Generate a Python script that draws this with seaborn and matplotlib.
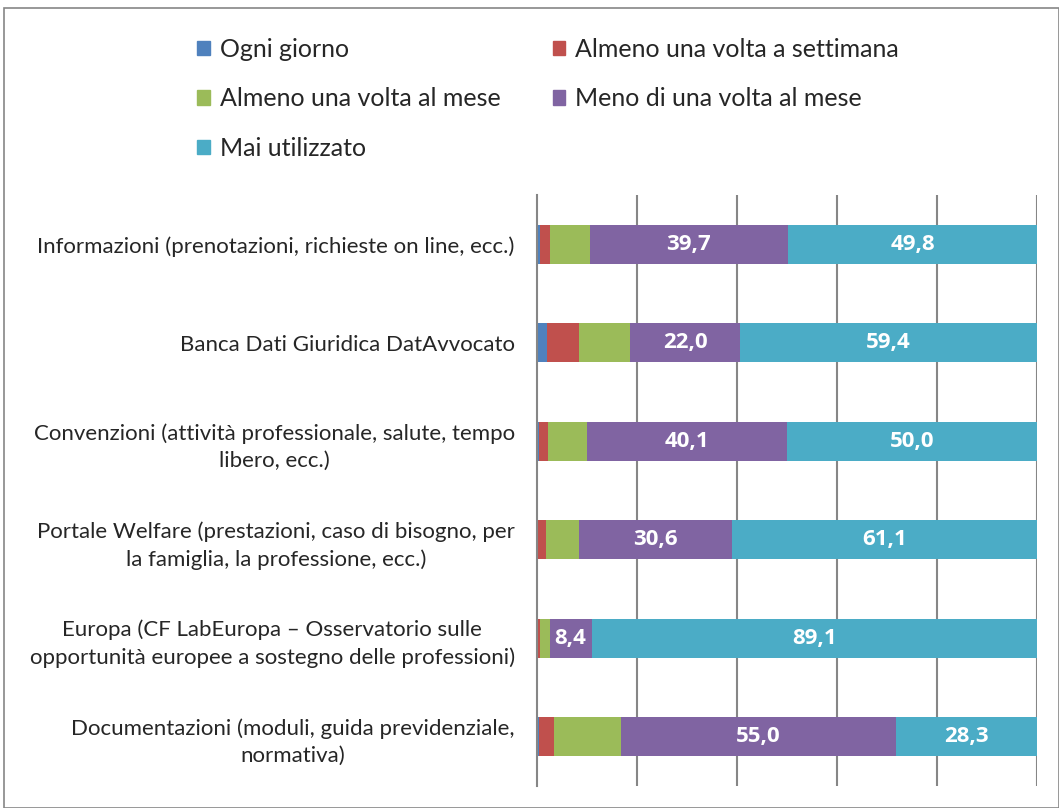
import numpy as np
import pandas as pd
import matplotlib
matplotlib.use('Agg')
import matplotlib.pyplot as plt
import matplotlib.patches as mpatches
import seaborn as sns

# categorie (dall'alto in basso)
servizi = [
    'Informazioni (prenotazioni, richieste on line, ecc.)',
    'Banca Dati Giuridica DatAvvocato',
    'Convenzioni (attività professionale, salute, tempo\nlibero, ecc.)',
    'Portale Welfare (prestazioni, caso di bisogno, per\nla famiglia, la professione, ecc.)',
    'Europa (CF LabEuropa – Osservatorio sulle\nopportunità europee a sostegno delle professioni)',
    'Documentazioni (moduli, guida previdenziale,\nnormativa)',
]
serie = ['Ogni giorno', 'Almeno una volta a settimana', 'Almeno una volta al mese',
         'Meno di una volta al mese', 'Mai utilizzato']

ogni_giorno = [0.5, 1.9, 0.3, 0.2, 0.1, 0.4]
settimana = [2.1, 6.5, 1.8, 1.6, 0.5, 3.0]
mese = [7.9, 10.2, 7.8, 6.5, 1.9, 13.3]
meno_mese = [39.7, 22.0, 40.1, 30.6, 8.4, 55.0]
mai = [49.8, 59.4, 50.0, 61.1, 89.1, 28.3]

colori = ['#4F81BD', '#C0504D', '#9BBB59', '#8064A2', '#4BACC6']

df = pd.DataFrame({'servizio': servizi, serie[0]: ogni_giorno, serie[1]: settimana,
                   serie[2]: mese, serie[3]: meno_mese, serie[4]: mai})
cum = df[serie].cumsum(axis=1)

sns.set_style('white')
plt.rcParams['font.family'] = ['Lato', 'DejaVu Sans']

fig = plt.figure(figsize=(10.59, 8.08), dpi=100)
ax = fig.add_axes([537 / 1059, 1 - 786 / 808, 500 / 1059, 591 / 808])

# barre impilate: disegno dalla cumulata più grande alla più piccola
for i in range(len(serie) - 1, -1, -1):
    sns.barplot(x=cum[serie[i]], y=df['servizio'], orient='h', color=colori[i],
                width=0.4, ax=ax, saturation=1, edgecolor='none')

# etichette dati per le ultime due serie
for i in [3, 4]:
    start = cum[serie[i]] - df[serie[i]]
    for j, v in enumerate(df[serie[i]]):
        ax.text(start[j] + v / 2, j, f'{v:.1f}'.replace('.', ','), ha='center', va='center',
                color='white', fontsize=16, fontweight='bold', family=['Open Sans', 'DejaVu Sans'])

ax.set_xlim(0, 100)
ax.set_ylim(len(servizi) - 0.5, -0.5)
ax.set_xticks([20, 40, 60, 80, 100])
ax.set_xticklabels([])
ax.xaxis.grid(True, color='#868686', linewidth=1.5)
ax.set_axisbelow(True)
ax.tick_params(axis='x', length=0)
ax.set_xlabel('')
ax.set_ylabel('')
ax.set_yticks(range(len(servizi)))
ax.set_yticklabels(servizi, fontsize=16, ha='right', multialignment='center', linespacing=1.45)
ax.tick_params(axis='y', which='major', length=0, pad=16)
ax.set_yticks(np.arange(-0.5, len(servizi), 1), minor=True)
ax.tick_params(axis='y', which='minor', length=7, width=1.5, color='#868686', direction='out')
for s in ['top', 'right', 'bottom']:
    ax.spines[s].set_visible(False)
ax.spines['left'].set_color('#868686')
ax.spines['left'].set_linewidth(1.5)

# legenda in ordine per righe
ordine = [0, 2, 4, 1, 3]
handles = [mpatches.Patch(color=colori[k], label=serie[k]) for k in ordine]
fig.legend(handles=handles, loc='upper left', bbox_to_anchor=(187 / 1059, 1 - 28 / 808),
           ncol=2, frameon=False, fontsize=18, handlelength=0.5, handleheight=0.5,
           handletextpad=0.4, labelspacing=1.05, columnspacing=2.1, borderaxespad=0)

# cornice della figura
fig.patches.append(mpatches.Rectangle((4 / 1059, 0), 1 - 4 / 1059, 1 - 8 / 808,
                                      transform=fig.transFigure, fill=False,
                                      edgecolor='#868686', linewidth=1.2))

fig.savefig('out.png', dpi=100)
